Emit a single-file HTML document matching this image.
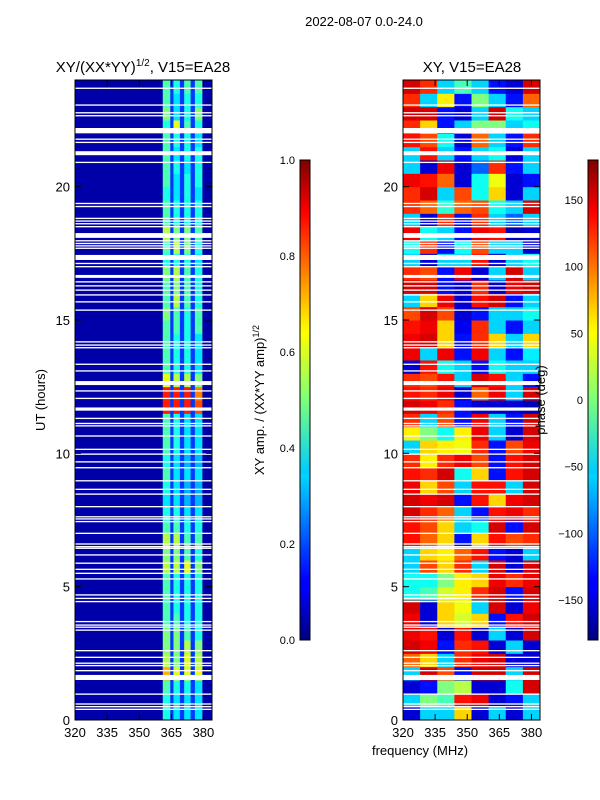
<!DOCTYPE html>
<html><head><meta charset="utf-8"><style>
html,body{margin:0;padding:0;background:#fff;}
svg{display:block;font-family:"Liberation Sans","DejaVu Sans",sans-serif;}
</style></head><body>
<svg id="fig" width="600" height="800" viewBox="0 0 600 800">
<defs>
<linearGradient id="jet" x1="0" y1="1" x2="0" y2="0">
<stop offset="0" stop-color="#00007f"/><stop offset="0.11" stop-color="#0000ff"/><stop offset="0.125" stop-color="#0000ff"/>
<stop offset="0.34" stop-color="#00d4ff"/><stop offset="0.35" stop-color="#0cf"/><stop offset="0.5" stop-color="#7cff79"/>
<stop offset="0.64" stop-color="#ff0"/><stop offset="0.66" stop-color="#fe0"/><stop offset="0.89" stop-color="#f00"/><stop offset="1" stop-color="#7f0000"/>
</linearGradient>
<clipPath id="clipL"><rect x="75" y="80" width="137" height="640"/></clipPath>
<clipPath id="clipR"><rect x="403" y="80" width="137" height="640"/></clipPath>
</defs>
<text x="364" y="26" font-size="13" text-anchor="middle">2022-08-07 0.0-24.0</text>
<text x="143" y="72" font-size="15" text-anchor="middle">XY/(XX*YY)<tspan font-size="10" dy="-6">1/2</tspan><tspan dy="6">, V15=EA28</tspan></text>
<text x="472" y="72" font-size="15" text-anchor="middle">XY, V15=EA28</text>
<g id="heatL" clip-path="url(#clipL)"></g>
<g id="heatR" clip-path="url(#clipR)"></g>
<g id="axes"></g>
<text transform="translate(45,400) rotate(-90)" font-size="13" text-anchor="middle">UT (hours)</text>
<text x="420" y="755" font-size="13" text-anchor="middle">frequency (MHz)</text>
<rect x="300" y="160" width="10" height="480" fill="url(#jet)" stroke="#000" stroke-width="1"/>
<rect x="588" y="160" width="10" height="480" fill="url(#jet)" stroke="#000" stroke-width="1"/>
<text transform="translate(264,400) rotate(-90)" font-size="13" text-anchor="middle">XY amp. / (XX*YY amp)<tspan font-size="9" dy="-5">1/2</tspan></text>
<text transform="translate(545,400) rotate(-90)" font-size="13" text-anchor="middle">phase (deg)</text>
</svg>
<script>
const timeRows = 48; // 0.5 h rows, index 0 = 0.0-0.5 h
const ampBandEdges = [361,364.5,366,369,371,374,376,379.5];
const ampBands = [
[0.4,0.35,0.35,0.35],[0.4,0.35,0.35,0.35],[0.45,0.4,0.4,0.35],[0.7,0.6,0.6,0.6],[0.55,0.5,0.6,0.55],
[0.5,0.5,0.55,0.5],[0.5,0.5,0.45,0.4],[0.45,0.45,0.4,0.4],[0.45,0.4,0.4,0.4],[0.45,0.4,0.4,0.4],
[0.45,0.4,0.4,0.4],[0.55,0.55,0.6,0.5],[0.5,0.5,0.45,0.4],[0.55,0.55,0.45,0.45],[0.45,0.45,0.4,0.4],
[0.4,0.4,0.35,0.35],[0.35,0.35,0.3,0.3],[0.4,0.35,0.3,0.3],[0.45,0.35,0.35,0.35],[0.4,0.35,0.3,0.3],
[0.45,0.4,0.35,0.35],[0.45,0.4,0.35,0.35],[0.45,0.4,0.35,0.35],[0.85,0.85,0.85,0.8],[0.85,0.85,0.85,0.75],
[0.6,0.55,0.55,0.5],[0.45,0.4,0.4,0.35],[0.45,0.4,0.4,0.35],[0.45,0.4,0.4,0.35],[0.45,0.45,0.4,0.45],
[0.5,0.45,0.4,0.45],[0.45,0.55,0.45,0.4],[0.45,0.5,0.45,0.4],[0.5,0.55,0.45,0.4],[0.4,0.4,0.4,0.35],
[0.45,0.55,0.5,0.4],[0.55,0.5,0.5,0.45],[0.45,0.4,0.4,0.4],[0.45,0.4,0.4,0.4],[0.4,0.35,0.4,0.35],
[0.45,0.35,0.4,0.4],[0.45,0.4,0.35,0.4],[0.45,0.35,0.4,0.4],[0.45,0.4,0.4,0.35],[0.4,0.6,0.45,0.4],
[0.5,0.35,0.4,0.5],[0.45,0.35,0.4,0.4],[0.45,0.4,0.45,0.45]];
const ampBackground = 0.04;
const ampGap = 0.18;
const phaseCols = [320,328,336,344,352,360,368,376,384];
const phase = [
[-150,-60,-60,60,-150,-60,-150,-60],[-60,0,-20,130,140,-150,-130,-60],[-150,-130,0,20,-150,-150,-40,150],
[-60,150,110,-130,150,150,-60,150],[100,60,-60,120,140,150,-150,-150],[150,140,-130,120,130,-150,-60,-150],
[140,130,-150,130,-150,-60,-150,150],[140,-150,60,30,60,-130,130,150],[150,-150,60,40,-60,150,-150,140],
[-40,-20,30,50,120,150,-130,150],[-40,-40,0,50,60,140,120,140],[-60,110,60,120,-60,150,-150,150],
[-60,60,50,100,130,-130,-150,-60],[130,100,60,-130,60,130,110,120],[130,110,60,-60,-40,150,-130,150],
[150,120,100,-60,-130,130,140,120],[150,140,150,-130,130,60,140,150],[140,60,110,-60,130,130,-60,150],
[130,120,150,-40,60,-130,130,150],[120,50,120,140,110,-130,130,150],[-60,60,50,40,120,-130,110,140],
[50,0,-40,50,140,-60,-150,150],[120,-60,110,-130,140,-60,-130,150],[150,140,120,-130,-150,-150,-150,-160],
[130,120,140,-150,100,140,-60,150],[120,110,130,-60,150,130,-60,-130],[-150,130,-40,-60,-130,-40,-60,-60],
[140,-60,140,-130,140,-60,-130,-50],[140,150,60,-130,120,60,-60,60],[130,140,60,-140,120,-60,-130,-60],
[110,150,110,-150,-130,-60,-60,-40],[-60,60,140,-150,130,150,-130,-60],[150,150,-130,-150,120,-150,140,150],
[120,110,-130,140,-150,-60,150,-60],[-60,-150,-60,-60,130,-150,-60,-40],[-40,120,-130,-40,110,-60,-60,-150],
[140,-40,-60,-130,140,130,-160,-150],[-60,-150,120,-130,120,-60,-100,-60],[120,100,-30,100,110,-40,-60,150],
[120,150,-60,110,-40,60,-150,-60],[140,130,100,-150,-40,40,-150,-130],[-60,-150,140,-150,-100,120,-130,-60],
[-60,130,-60,-130,-60,-40,-150,-60],[130,110,-40,-150,100,-60,-130,120],[120,60,-130,-60,0,0,-60,-40],
[150,150,-130,-150,-60,150,-40,-60],[120,-60,50,-130,0,-60,-130,100],[150,120,-60,-20,-60,-130,-150,150]];
const gaps = [[22.0,22.2],[21.18,21.33],[19.23,19.28],[18.08,18.26],[17.25,17.44],[16.58,16.69],[12.56,12.71],[11.6,11.72],[1.5,1.69]];
const thinGaps = [23.69,23.06,22.77,22.66,21.78,21.66,20.91,19.37,18.81,18.71,18.61,18.5,17.97,17.87,17.78,17.69,17.12,17.0,16.43,16.28,16.12,15.94,15.68,15.37,14.18,14.06,13.96,13.34,13.09,12.34,12.06,11.31,11.12,11.03,10.65,10.15,9.97,9.68,9.46,8.97,8.65,8.47,8.0,7.62,7.54,7.44,7.0,6.6,6.5,6.44,6.19,5.88,5.65,5.5,5.29,4.69,4.56,4.44,3.69,3.56,3.48,3.37,2.6,2.35,2.13,2.04,1.85,0.97,0.6,0.5,0.4];
const xTicks = [320,335,350,365,380];
const yTicks = [0,5,10,15,20];
const ampTicks = [0.0,0.2,0.4,0.6,0.8,1.0];
const phaseTicks = [-150,-100,-50,0,50,100,150];

const NS='http://www.w3.org/2000/svg';
const xL = f => 75 + (f-320)/64*137;
const xR = f => 403 + (f-320)/64*137;
const yT = t => 720 - t/24*640;
const yAmp = v => 640 - v*480;
const yPh = v => 640 - (v+180)/360*480;
function jet(v){v=Math.max(0,Math.min(1,v));
 const c=x=>Math.round(255*Math.max(0,Math.min(1,x)));
 return `rgb(${c(1.5-Math.abs(4*v-3))},${c(1.5-Math.abs(4*v-2))},${c(1.5-Math.abs(4*v-1))})`;}
function mk(tag,attrs,parent){const e=document.createElementNS(NS,tag);for(const k in attrs)e.setAttribute(k,attrs[k]);parent.appendChild(e);return e;}
const gL=document.getElementById('heatL'), gR=document.getElementById('heatR'), ax=document.getElementById('axes');
for(let r=0;r<timeRows;r++){
 const y0=yT((r+1)*0.5), h=yT(r*0.5)-y0+0.5;
 const edges=[320].concat(ampBandEdges,[384]);
 for(let c=0;c<edges.length-1;c++){
  let v = (c===0||c===edges.length-2)?ampBackground:(c%2===1?ampBands[r][(c-1)/2]:ampGap);
  const e=mk('rect',{x:xL(edges[c]),y:y0,width:xL(edges[c+1])-xL(edges[c])+0.5,height:h,fill:jet(v)},gL);
  
  
 }
 for(let c=0;c<phaseCols.length-1;c++){
  const e=mk('rect',{x:xR(phaseCols[c]),y:y0,width:xR(phaseCols[c+1])-xR(phaseCols[c])+0.5,height:h,fill:jet((phase[r][c]+180)/360)},gR);
  
  
 }
}
const allGaps = gaps.concat(thinGaps.map(t=>[t-0.025,t+0.025]));
for(const g of allGaps){for(const [grp,x0] of [[gL,75],[gR,403]]){
 const e=mk('rect',{x:x0,y:yT(g[1]),width:137,height:Math.max(1.2,yT(g[0])-yT(g[1])),fill:'#fff'},grp);
 
 
}}
for(const x0 of [75,403]){
 const fr=mk('rect',{x:x0,y:80,width:137,height:640,fill:'none',stroke:'#000','stroke-width':1},ax);
 
 
 const xf = x0===75?xL:xR;
 for(const t of xTicks){const X=xf(t);
  mk('line',{x1:X,y1:720,x2:X,y2:714,stroke:'#000'},ax);mk('line',{x1:X,y1:80,x2:X,y2:86,stroke:'#000'},ax);
  const tx=mk('text',{x:X,y:737,'font-size':13,'text-anchor':'middle'},ax);tx.textContent=t;
  
  }
 for(const t of yTicks){const Y=yT(t);
  mk('line',{x1:x0,y1:Y,x2:x0+6,y2:Y,stroke:'#000'},ax);mk('line',{x1:x0+137,y1:Y,x2:x0+131,y2:Y,stroke:'#000'},ax);
  const tx=mk('text',{x:x0-5,y:Y+5,'font-size':13,'text-anchor':'end'},ax);tx.textContent=t;
  
  }
}
for(const v of ampTicks){const Y=yAmp(v);
 mk('line',{x1:300,y1:Y,x2:303,y2:Y,stroke:'#000'},ax);mk('line',{x1:310,y1:Y,x2:307,y2:Y,stroke:'#000'},ax);
 const tx=mk('text',{x:295,y:Y+4,'font-size':11,'text-anchor':'end'},ax);tx.textContent=v.toFixed(1);
 
 }
for(const v of phaseTicks){const Y=yPh(v);
 mk('line',{x1:588,y1:Y,x2:591,y2:Y,stroke:'#000'},ax);mk('line',{x1:598,y1:Y,x2:595,y2:Y,stroke:'#000'},ax);
 const tx=mk('text',{x:583,y:Y+4,'font-size':11,'text-anchor':'end'},ax);tx.textContent=v<0?'\u2212'+(-v):v;
 
 }
</script>
</body></html>
